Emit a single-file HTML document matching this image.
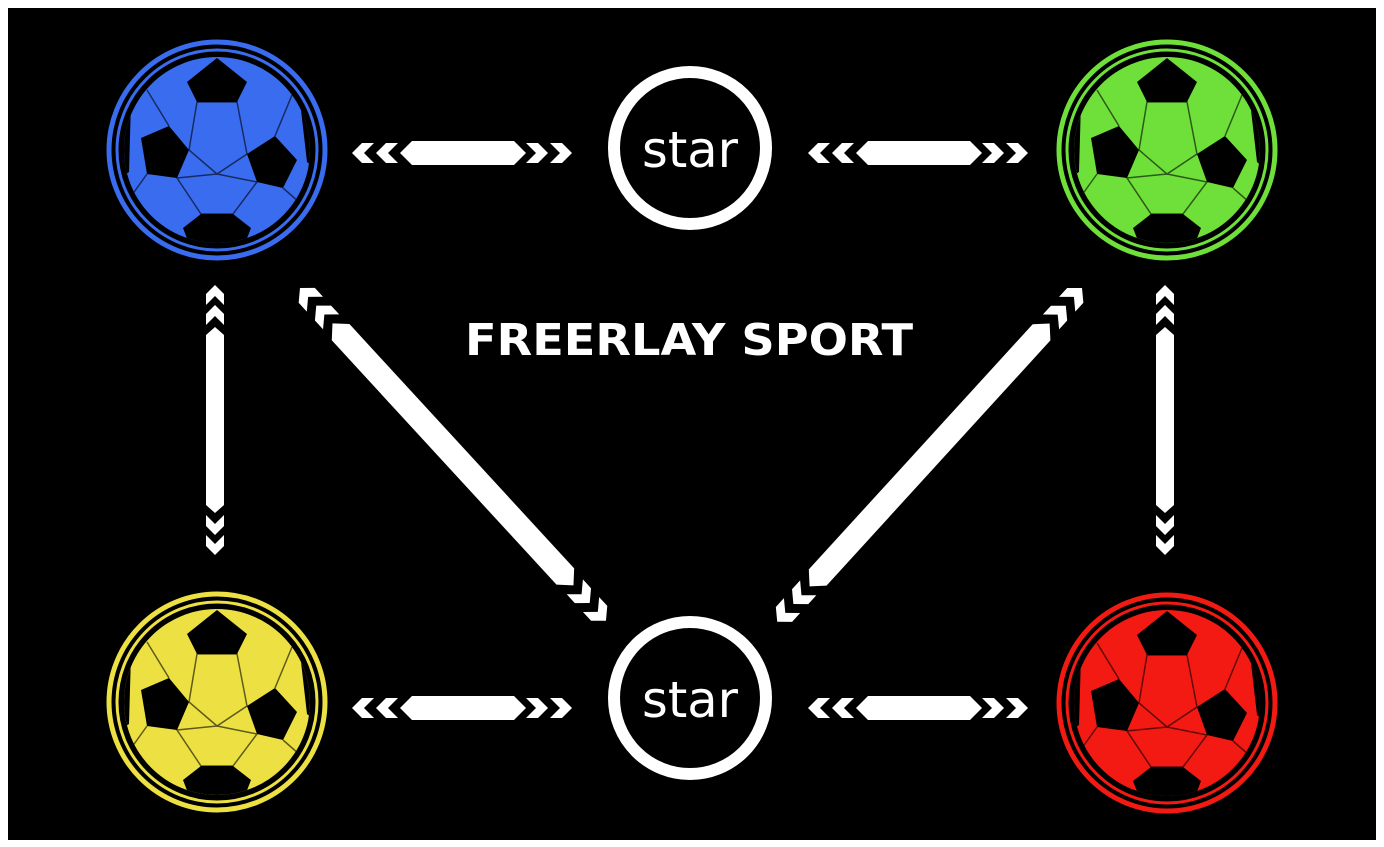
<!DOCTYPE html>
<html><head><meta charset="utf-8"><style>
html,body{margin:0;padding:0;background:#fff;}
svg{display:block;}
</style></head><body>
<svg width="1384" height="847" viewBox="0 0 1384 847" xmlns="http://www.w3.org/2000/svg">
<defs>
  <clipPath id="bc"><circle cx="0" cy="0" r="93"/></clipPath>
  <g id="ball">
    <circle r="108" fill="none" stroke="currentColor" stroke-width="5"/>
    <circle r="100" fill="none" stroke="currentColor" stroke-width="3"/>
    <circle r="93" fill="currentColor"/>
    <g clip-path="url(#bc)" fill="#000">
      <polygon points="-30,-68 0,-92 30,-68 20,-48 -20,-48"/>
      <polygon points="-76,-12 -48,-24 -28,0 -40,28 -70,24"/>
      <polygon points="30,4 58,-14 80,10 66,38 40,32"/>
      <polygon points="-34,78 -16,64 16,64 34,78 24,104 -24,104"/>
      <polygon points="84,-40 100,-40 100,20 90,12"/>
      <polygon points="-86,-48 -100,-48 -100,30 -88,22"/>
    </g>
    <g clip-path="url(#bc)" fill="none" stroke="#000" stroke-width="1.5" opacity="0.6">
      <polygon points="-20,-48 20,-48 30,4 0,24 -28,0"/>
      <polygon points="0,24 40,32 16,64 -16,64 -40,28"/>
      <line x1="-48" y1="-24" x2="-70" y2="-60"/><line x1="58" y1="-14" x2="75" y2="-55"/>
      <line x1="-70" y1="24" x2="-85" y2="45"/><line x1="66" y1="38" x2="82" y2="52"/>
    </g>
  </g>
  <g id="hconn" fill="#fff">
    <polygon points="0,0 10,-10 22,-10 12,0 22,10 10,10"/>
    <polygon points="24,0 34,-10 46,-10 36,0 46,10 34,10"/>
    <polygon points="48,0 60,-12 162,-12 174,0 162,12 60,12"/>
    <polygon points="174,-10 186,-10 196,0 186,10 174,10 184,0"/>
    <polygon points="198,-10 210,-10 220,0 210,10 198,10 208,0"/>
  </g>
  <g id="vconn" fill="#fff">
    <polygon points="0,0 9,-9 20,-9 11,0 20,9 9,9"/>
    <polygon points="20,0 29,-9 40,-9 31,0 40,9 29,9"/>
    <polygon points="42,0 50,-9 220,-9 228,0 220,9 50,9"/>
    <polygon points="230,-9 241,-9 250,0 241,9 230,9 239,0"/>
    <polygon points="250,-9 261,-9 270,0 261,9 250,9 259,0"/>
  </g>
  <g id="dconn" fill="#fff">
    <polygon points="0,0 10,-11 22,-11 12,0 22,11 10,11"/>
    <polygon points="24,0 34,-11 46,-11 36,0 46,11 34,11"/>
    <polygon points="48,0 60,-12 392,-12 404,0 392,12 60,12"/>
    <polygon points="406,-11 418,-11 428,0 418,11 406,11 416,0"/>
    <polygon points="430,-11 442,-11 452,0 442,11 430,11 440,0"/>
  </g>
</defs>
<rect x="8" y="8" width="1368" height="832" fill="#000"/>

<use href="#ball" transform="translate(217,150)" style="color:#3a6cf0"/>
<use href="#ball" transform="translate(1167,150)" style="color:#6fe03a"/>
<use href="#ball" transform="translate(217,702)" style="color:#ece042"/>
<use href="#ball" transform="translate(1167,703)" style="color:#f21a12"/>

<circle cx="690" cy="148" r="76" fill="none" stroke="#fff" stroke-width="12"/>
<circle cx="690" cy="698" r="76" fill="none" stroke="#fff" stroke-width="12"/>
<text x="690" y="167" text-anchor="middle" font-family="DejaVu Sans, sans-serif" font-size="50" fill="#fff" textLength="96" lengthAdjust="spacingAndGlyphs">star</text>
<text x="690" y="717" text-anchor="middle" font-family="DejaVu Sans, sans-serif" font-size="50" fill="#fff" textLength="96" lengthAdjust="spacingAndGlyphs">star</text>

<use href="#hconn" transform="translate(352,153)"/>
<use href="#hconn" transform="translate(808,153)"/>
<use href="#hconn" transform="translate(352,708)"/>
<use href="#hconn" transform="translate(808,708)"/>

<use href="#vconn" transform="translate(215,285) rotate(90)"/>
<use href="#vconn" transform="translate(1165,285) rotate(90)"/>

<use href="#dconn" transform="translate(300,288) rotate(47.4)"/>
<use href="#dconn" transform="translate(1082,288) rotate(132.4)"/>

<text x="689" y="355" text-anchor="middle" font-family="DejaVu Sans, sans-serif" font-weight="bold" font-size="44" fill="#fff" textLength="448" lengthAdjust="spacingAndGlyphs">FREERLAY SPORT</text>
</svg>
</body></html>
